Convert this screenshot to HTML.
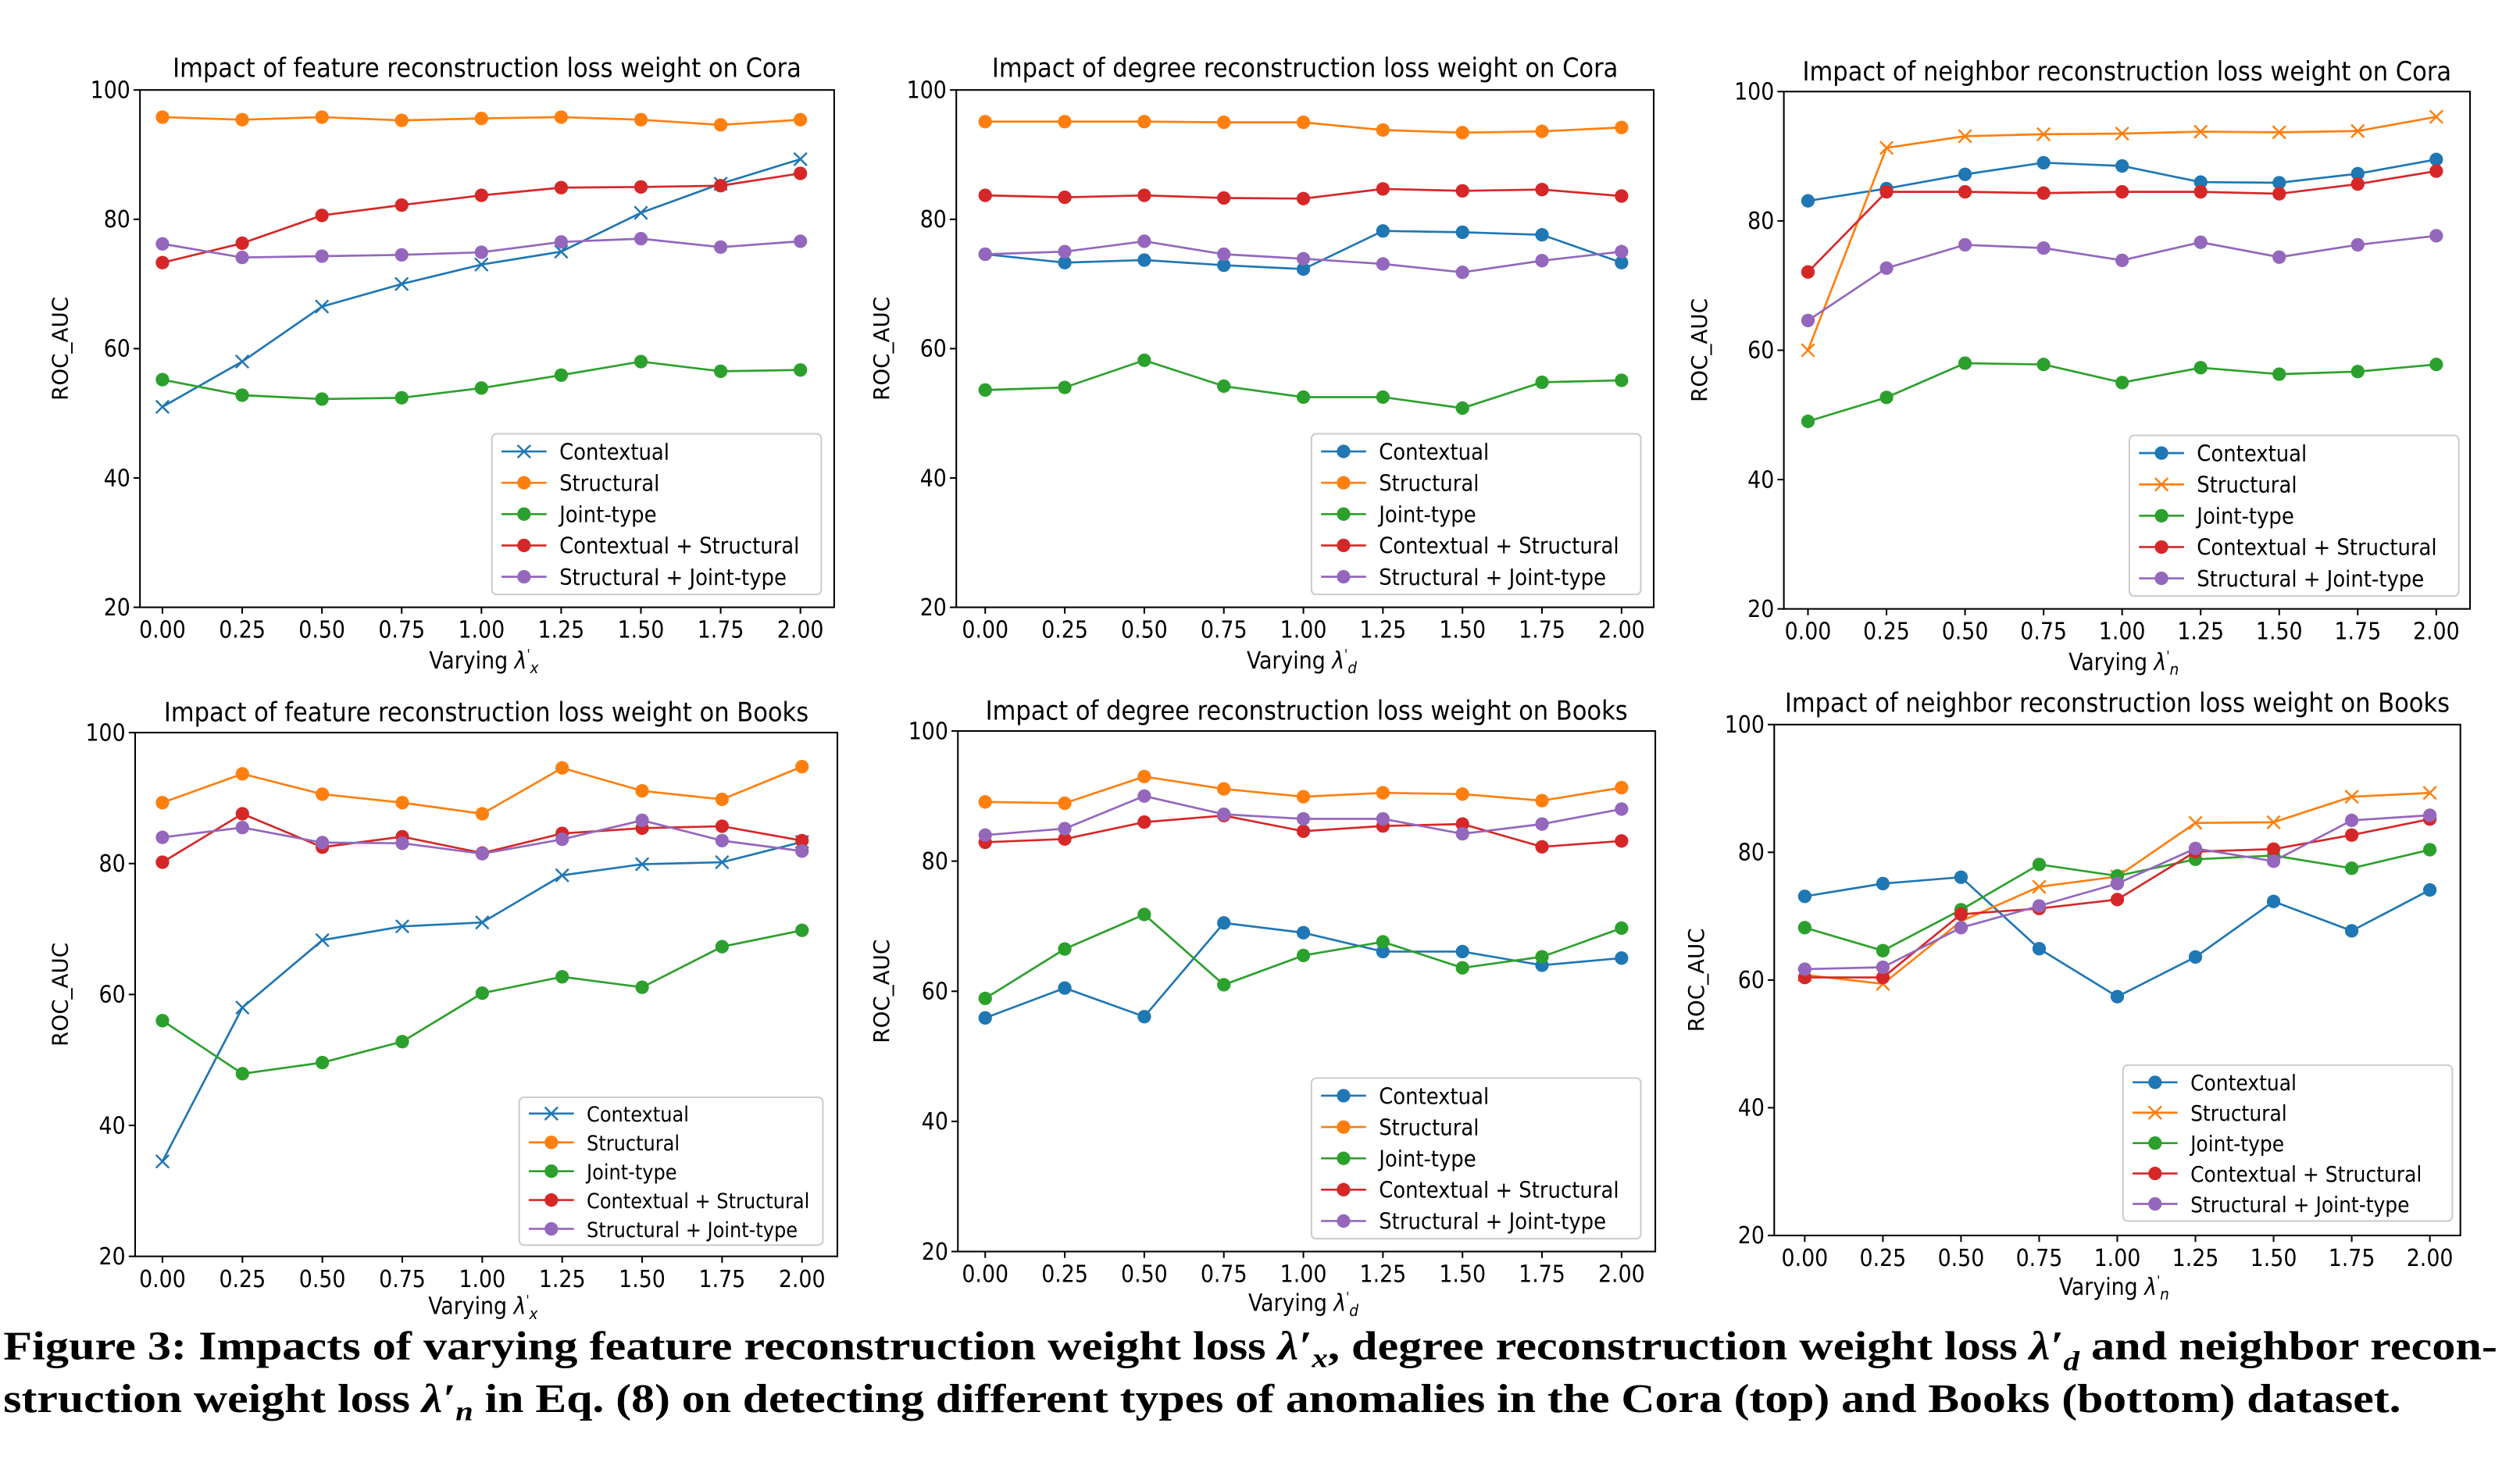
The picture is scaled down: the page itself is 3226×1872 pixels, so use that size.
<!DOCTYPE html>
<html><head><meta charset="utf-8"><style>
html,body{margin:0;padding:0;background:#fff}
svg{display:block}
</style></head><body>
<svg id="fig" xmlns="http://www.w3.org/2000/svg" width="3226" height="1872" viewBox="0 0 1568 910" font-family="'DejaVu Sans Condensed','DejaVu Sans','Liberation Sans',sans-serif">
<rect width="1568" height="910" fill="#fff"/>
<g id="charts"></g>
<text x="2" y="846" font-family="'Liberation Serif',serif" font-weight="bold" font-size="25" textLength="1552" lengthAdjust="spacingAndGlyphs">Figure 3: Impacts of varying feature reconstruction weight loss <tspan font-style="italic">λ′<tspan font-size="17" dy="5">x</tspan></tspan><tspan dy="-5">, degree reconstruction weight loss </tspan><tspan font-style="italic">λ′<tspan font-size="17" dy="7">d</tspan></tspan><tspan dy="-7"> and neighbor recon-</tspan></text>
<text x="2" y="879" font-family="'Liberation Serif',serif" font-weight="bold" font-size="25" textLength="1492" lengthAdjust="spacingAndGlyphs">struction weight loss <tspan font-style="italic">λ′<tspan font-size="17" dy="5">n</tspan></tspan><tspan dy="-5"> in Eq. (8) on detecting different types of anomalies in the Cora (top) and Books (bottom) dataset.</tspan></text>
</svg>
<script>
const xValues = [0, 0.25, 0.5, 0.75, 1.0, 1.25, 1.5, 1.75, 2.0];
const xTickLabels = ["0.00","0.25","0.50","0.75","1.00","1.25","1.50","1.75","2.00"];
const yTicks = [20, 40, 60, 80, 100];
const seriesNames = ["Contextual","Structural","Joint-type","Contextual + Structural","Structural + Joint-type"];

const coraFeatContextual = [51, 58, 66.5, 70, 73, 75, 81, 85.5, 89.3];
const coraFeatStructural = [95.8, 95.4, 95.8, 95.3, 95.6, 95.8, 95.4, 94.6, 95.4];
const coraFeatJoint = [55.2, 52.8, 52.2, 52.4, 53.9, 55.9, 58, 56.5, 56.7];
const coraFeatCS = [73.3, 76.3, 80.6, 82.2, 83.7, 84.9, 85, 85.2, 87.1];
const coraFeatSJ = [76.2, 74.1, 74.3, 74.5, 74.9, 76.5, 77, 75.7, 76.6];

const coraDegContextual = [74.6, 73.3, 73.7, 72.9, 72.3, 78.2, 78, 77.6, 73.3];
const coraDegStructural = [95.1, 95.1, 95.1, 95, 95, 93.8, 93.4, 93.6, 94.2];
const coraDegJoint = [53.6, 54, 58.2, 54.2, 52.5, 52.5, 50.8, 54.8, 55.1];
const coraDegCS = [83.7, 83.4, 83.7, 83.3, 83.2, 84.7, 84.4, 84.6, 83.6];
const coraDegSJ = [74.6, 75, 76.6, 74.6, 73.9, 73.1, 71.8, 73.6, 75];

const coraNbrContextual = [83.1, 85, 87.2, 89, 88.5, 86, 85.9, 87.3, 89.5];
const coraNbrStructural = [60, 91.3, 93.1, 93.4, 93.5, 93.8, 93.7, 93.9, 96.1];
const coraNbrJoint = [49, 52.7, 58, 57.8, 55, 57.3, 56.3, 56.7, 57.8];
const coraNbrCS = [72.1, 84.5, 84.5, 84.3, 84.5, 84.5, 84.2, 85.7, 87.7];
const coraNbrSJ = [64.6, 72.7, 76.3, 75.8, 73.9, 76.7, 74.4, 76.3, 77.7];

const booksFeatContextual = [34.5, 58, 68.3, 70.4, 71, 78.2, 79.9, 80.2, 83.3];
const booksFeatStructural = [89.3, 93.7, 90.6, 89.3, 87.6, 94.6, 91.1, 89.8, 94.8];
const booksFeatJoint = [56, 47.9, 49.6, 52.8, 60.2, 62.7, 61.1, 67.3, 69.8];
const booksFeatCS = [80.2, 87.6, 82.5, 84.1, 81.6, 84.6, 85.4, 85.7, 83.5];
const booksFeatSJ = [84, 85.5, 83.2, 83.1, 81.5, 83.7, 86.6, 83.5, 81.9];

const booksDegContextual = [55.9, 60.5, 56.1, 70.5, 69, 66.1, 66.1, 64, 65.1];
const booksDegStructural = [89.1, 88.9, 93, 91.1, 89.9, 90.5, 90.3, 89.3, 91.3];
const booksDegJoint = [58.9, 66.5, 71.8, 61, 65.5, 67.6, 63.6, 65.3, 69.7];
const booksDegCS = [82.9, 83.4, 86, 87, 84.6, 85.4, 85.7, 82.2, 83.1];
const booksDegSJ = [84, 85, 90, 87.2, 86.5, 86.5, 84.2, 85.7, 88];

const booksNbrContextual = [73.1, 75.1, 76.1, 64.9, 57.4, 63.6, 72.3, 67.7, 74.1];
const booksNbrStructural = [60.8, 59.4, 69.2, 74.6, 76.2, 84.6, 84.7, 88.7, 89.3];
const booksNbrJoint = [68.2, 64.6, 71, 78.1, 76.3, 78.9, 79.5, 77.5, 80.4];
const booksNbrCS = [60.4, 60.4, 70.3, 71.2, 72.6, 80.1, 80.5, 82.7, 85.2];
const booksNbrSJ = [61.7, 62, 68.2, 71.6, 75.1, 80.6, 78.6, 85, 85.8];

const colors = ["#1f77b4","#ff7f0e","#2ca02c","#d62728","#9467bd"];
const NS = "http://www.w3.org/2000/svg";
const root = document.getElementById('charts');

function mk(tag, attrs, parent) {
  const e = document.createElementNS(NS, tag);
  for (const k in attrs) e.setAttribute(k, attrs[k]);
  parent.appendChild(e);
  return e;
}

const panels = [
  {id:"cora-feature", title:"Impact of feature reconstruction loss weight on Cora", sub:"x", L:87, R:519, T:56, B:378, x0:101, x1:498, titleY:48, xlabY:416, ylabX:42, cross:0,
   data:[coraFeatContextual,coraFeatStructural,coraFeatJoint,coraFeatCS,coraFeatSJ], leg:{x:306,y:270,w:205,h:100,fs:14}},
  {id:"cora-degree", title:"Impact of degree reconstruction loss weight on Cora", sub:"d", L:595, R:1029, T:56, B:378, x0:613, x1:1009, titleY:48, xlabY:416, ylabX:553, cross:-1,
   data:[coraDegContextual,coraDegStructural,coraDegJoint,coraDegCS,coraDegSJ], leg:{x:816,y:270,w:205,h:100,fs:14}},
  {id:"cora-neighbor", title:"Impact of neighbor reconstruction loss weight on Cora", sub:"n", L:1110, R:1537, T:57, B:379, x0:1125, x1:1516, titleY:50, xlabY:417, ylabX:1062, cross:1,
   data:[coraNbrContextual,coraNbrStructural,coraNbrJoint,coraNbrCS,coraNbrSJ], leg:{x:1325,y:271,w:205,h:100,fs:14}},
  {id:"books-feature", title:"Impact of feature reconstruction loss weight on Books", sub:"x", L:84, R:521, T:456, B:782, x0:101, x1:499, titleY:449, xlabY:818, ylabX:42, cross:0,
   data:[booksFeatContextual,booksFeatStructural,booksFeatJoint,booksFeatCS,booksFeatSJ], leg:{x:323,y:683,w:189,h:92,fs:13}},
  {id:"books-degree", title:"Impact of degree reconstruction loss weight on Books", sub:"d", L:596, R:1030, T:455, B:779, x0:613, x1:1009, titleY:448, xlabY:816, ylabX:553, cross:-1,
   data:[booksDegContextual,booksDegStructural,booksDegJoint,booksDegCS,booksDegSJ], leg:{x:816,y:671,w:205,h:100,fs:14}},
  {id:"books-neighbor", title:"Impact of neighbor reconstruction loss weight on Books", sub:"n", L:1104, R:1531, T:451, B:769, x0:1123, x1:1512, titleY:443, xlabY:806, ylabX:1060, cross:1,
   data:[booksNbrContextual,booksNbrStructural,booksNbrJoint,booksNbrCS,booksNbrSJ], leg:{x:1321,y:663,w:205,h:97,fs:13.5}}
];

function marker(g, kind, cx, cy, color, r) {
  if (kind === 'x') {
    mk('path', {d:`M${cx-r} ${cy-r}L${cx+r} ${cy+r}M${cx-r} ${cy+r}L${cx+r} ${cy-r}`, stroke:color, 'stroke-width':1.2, fill:'none'}, g);
  } else {
    mk('circle', {cx:cx, cy:cy, r:r, fill:color}, g);
  }
}

panels.forEach(p => {
  const g = mk('g', {}, root);
  
  
  const sx = v => p.x0 + (v - xValues[0]) / (xValues[xValues.length-1] - xValues[0]) * (p.x1 - p.x0);
  const sy = v => p.B - (v - 20) / 80 * (p.B - p.T);

  const t = mk('text', {x:(p.L+p.R)/2, y:p.titleY, 'text-anchor':'middle', 'font-size':16.5}, g);
  t.textContent = p.title;
  
  

  yTicks.forEach(v => {
    mk('line', {x1:p.L-4, x2:p.L, y1:sy(v), y2:sy(v), stroke:'#000', 'stroke-width':1}, g);
    const tl = mk('text', {x:p.L-6, y:sy(v)+5, 'text-anchor':'end', 'font-size':14.5}, g);
    tl.textContent = v;
    
    
  });
  xValues.forEach((v, i) => {
    mk('line', {x1:sx(v), x2:sx(v), y1:p.B, y2:p.B+4, stroke:'#000', 'stroke-width':1}, g);
    const tl = mk('text', {x:sx(v), y:p.B+19, 'text-anchor':'middle', 'font-size':14.5}, g);
    tl.textContent = xTickLabels[i];
    
    
  });

  const yl = mk('text', {x:p.ylabX, y:(p.T+p.B)/2, 'text-anchor':'middle', 'font-size':13.5, 'font-family':"'DejaVu Sans',sans-serif", transform:`rotate(-90 ${p.ylabX} ${(p.T+p.B)/2})`}, g);
  yl.textContent = 'ROC_AUC';
  
  

  const xl = mk('text', {x:(p.L+p.R)/2 - 2, y:p.xlabY, 'text-anchor':'middle', 'font-size':14.5}, g);
  xl.innerHTML = `Varying <tspan font-style="italic">λ</tspan><tspan font-size="8" dy="-6">'</tspan><tspan font-size="10" font-style="italic" dy="9">${p.sub}</tspan>`;
  
  

  p.data.forEach((arr, si) => {
    const sg = mk('g', {}, g);
    
    
    const kind = si === p.cross ? 'x' : 'o';
    const d = arr.map((v, i) => (i ? 'L' : 'M') + sx(xValues[i]).toFixed(2) + ' ' + sy(v).toFixed(2)).join('');
    mk('path', {d:d, stroke:colors[si], 'stroke-width':1.3, fill:'none'}, sg);
    arr.forEach((v, i) => marker(sg, kind, sx(xValues[i]), sy(v), colors[si], kind==='x'?4:4.2));
  });

  mk('rect', {x:p.L, y:p.T, width:p.R-p.L, height:p.B-p.T, fill:'none', stroke:'#000', 'stroke-width':1}, g);

  const lg = mk('g', {}, g);
  
  
  const L = p.leg;
  mk('rect', {x:L.x, y:L.y, width:L.w, height:L.h, rx:3, fill:'#fff', 'fill-opacity':0.85, stroke:'#ccc', 'stroke-width':1}, lg);
  const start = L.y + L.h * 0.11;
  const step = L.h * 0.78 / 4;
  seriesNames.forEach((n, si) => {
    const cy = start + step * si;
    const eg = mk('g', {}, lg);
    
    
    mk('line', {x1:L.x+6, x2:L.x+34, y1:cy, y2:cy, stroke:colors[si], 'stroke-width':1.3}, eg);
    marker(eg, si === p.cross ? 'x' : 'o', L.x+20, cy, colors[si], si===p.cross?4:4.2);
    const tx = mk('text', {x:L.x+42, y:cy+5, 'font-size':L.fs}, eg);
    tx.textContent = n;
  });
});
</script>
</body></html>
